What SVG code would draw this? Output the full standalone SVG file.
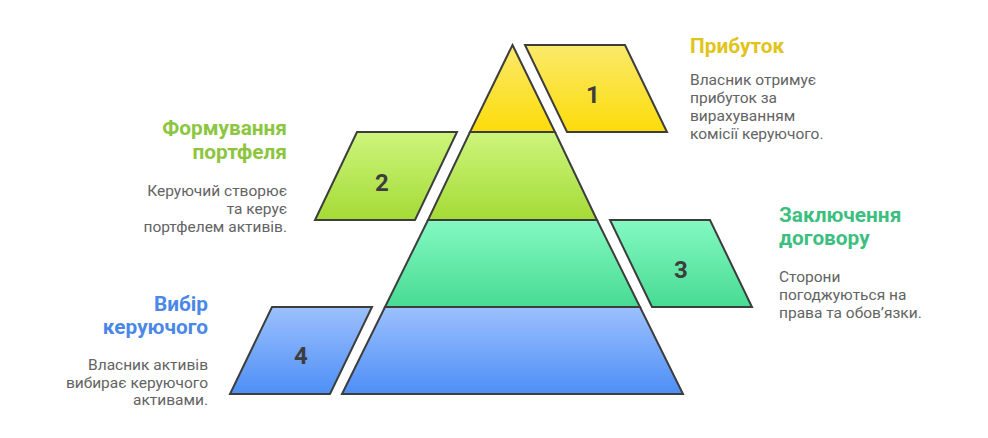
<svg xmlns="http://www.w3.org/2000/svg" width="988" height="438" viewBox="0 0 988 438">
<defs>
<linearGradient id="gY" x1="0" y1="0" x2="0" y2="1"><stop offset="0" stop-color="#fbe96b"/><stop offset="1" stop-color="#fcdc0a"/></linearGradient>
<linearGradient id="gG" x1="0" y1="0" x2="0" y2="1"><stop offset="0" stop-color="#ccf57c"/><stop offset="1" stop-color="#a5db36"/></linearGradient>
<linearGradient id="gT" x1="0" y1="0" x2="0" y2="1"><stop offset="0" stop-color="#84f9c2"/><stop offset="1" stop-color="#47db93"/></linearGradient>
<linearGradient id="gB" x1="0" y1="0" x2="0" y2="1"><stop offset="0" stop-color="#9cc0fd"/><stop offset="1" stop-color="#4e8ff6"/></linearGradient>
<style>
.sh{stroke:#3d3d3d;stroke-width:2;stroke-linejoin:miter}
.num{font-family:Roboto,"Liberation Sans",sans-serif;font-weight:700;font-size:24px;fill:#3d3d3d;text-anchor:middle}
.ttl{font-family:Roboto,"Liberation Sans",sans-serif;font-weight:700;font-size:20.8px}
.dsc{font-family:Roboto,"Liberation Sans",sans-serif;font-size:15.5px;fill:#636363}
.r{text-anchor:end}
</style>
</defs>
<rect width="988" height="438" fill="#ffffff"/>
<g id="tier1">
<polygon class="sh" fill="url(#gY)" points="512.5,45 555,132 470,132"/>
<polygon class="sh" fill="url(#gY)" points="525,45 625,45 667,132 567,132"/>
<text class="num" x="593" y="103">1</text>
<text class="ttl" x="690" y="53" fill="#e1c419">Прибуток</text>
<text class="dsc" x="690" y="85">Власник отримує</text>
<text class="dsc" x="690" y="103">прибуток за</text>
<text class="dsc" x="690" y="121">вирахуванням</text>
<text class="dsc" x="690" y="139">комісії керуючого.</text>
</g>
<g id="tier2">
<polygon class="sh" fill="url(#gG)" points="470,132 555,132 597,220 428,220"/>
<polygon class="sh" fill="url(#gG)" points="357,132 457,132 415,220 315,220"/>
<text class="num" x="382" y="191">2</text>
<text class="ttl r" x="287" y="135" fill="#8cc63f">Формування</text>
<text class="ttl r" x="287" y="159" fill="#8cc63f">портфеля</text>
<text class="dsc r" x="287" y="196">Керуючий створює</text>
<text class="dsc r" x="287" y="214">та керує</text>
<text class="dsc r" x="287" y="232">портфелем активів.</text>
</g>
<g id="tier3">
<polygon class="sh" fill="url(#gT)" points="428,220 597,220 640,307 385,307"/>
<polygon class="sh" fill="url(#gT)" points="610,220 710,220 752,307 652,307"/>
<text class="num" x="681" y="278">3</text>
<text class="ttl" x="779" y="222" fill="#3dbf7f">Заключення</text>
<text class="ttl" x="779" y="245" fill="#3dbf7f">договору</text>
<text class="dsc" x="779" y="282">Сторони</text>
<text class="dsc" x="779" y="300">погоджуються на</text>
<text class="dsc" x="779" y="318">права та обов’язки.</text>
</g>
<g id="tier4">
<polygon class="sh" fill="url(#gB)" points="385,307 640,307 683,394 342,394"/>
<polygon class="sh" fill="url(#gB)" points="272,307 372,307 330,394 230,394"/>
<text class="num" x="301" y="364">4</text>
<text class="ttl r" x="208" y="311" fill="#4a88e8">Вибір</text>
<text class="ttl r" x="208" y="334" fill="#4a88e8">керуючого</text>
<text class="dsc r" x="208" y="370">Власник активів</text>
<text class="dsc r" x="208" y="388">вибирає керуючого</text>
<text class="dsc r" x="208" y="405">активами.</text>
</g>
<g id="connectors"></g>
</svg>
